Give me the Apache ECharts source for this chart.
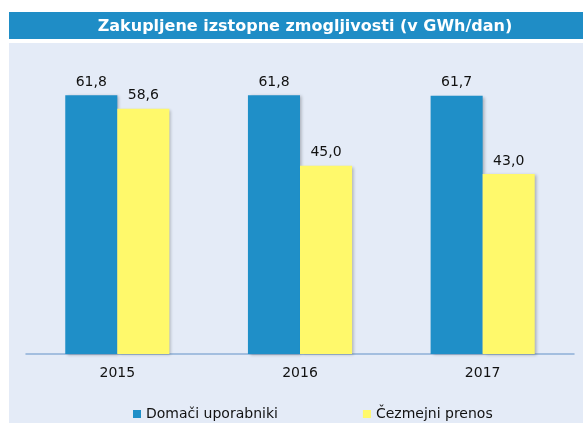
<!DOCTYPE html>
<html>
<head>
<meta charset="utf-8">
<script src="https://cdn.jsdelivr.net/npm/echarts@6/dist/echarts.min.js"></script>
<style>
html,body{margin:0;padding:0;background:#ffffff;}
#chart{width:583px;height:423px;}
</style>
</head>
<body>
<div id="chart"></div>
<script>
const titleText = 'Zakupljene izstopne zmogljivosti (v GWh/dan)';
const categories = ['2015', '2016', '2017'];
const seriesNames = ['Domači uporabniki', 'Čezmejni prenos'];
const domaci = [61.8, 61.8, 61.7];
const cezmejni = [58.6, 45.0, 43.0];

const FONT = '"DejaVu Sans", sans-serif';
const chart = echarts.init(document.getElementById('chart'), null, {renderer: 'canvas'});
const fmt = p => p.value.toFixed(1).replace('.', ',');

chart.setOption({
  animation: false,
  backgroundColor: '#ffffff',
  graphic: [
    {type: 'rect', z: -10, shape: {x: 9, y: 43, width: 574, height: 380}, style: {fill: '#E4EBF7'}},
    {type: 'rect', z: -10, shape: {x: 9, y: 12, width: 574, height: 27}, style: {fill: '#1F8DC6'}}
  ],
  title: {
    text: titleText,
    left: 300,
    textAlign: 'center',
    top: 14,
    textStyle: {color: '#ffffff', fontSize: 16, fontWeight: 'bold', fontFamily: FONT}
  },
  legend: {
    left: 128,
    top: 402,
    itemWidth: 8,
    itemHeight: 8,
    itemGap: 85,
    icon: 'rect',
    textStyle: {fontSize: 14, color: '#111111', fontFamily: FONT},
    data: seriesNames
  },
  grid: {left: 26, right: 9, top: 61, bottom: 69},
  xAxis: {
    type: 'category',
    data: categories,
    axisLine: {lineStyle: {color: '#8DB0D8', width: 1.5}},
    axisTick: {show: false},
    axisLabel: {fontSize: 14, color: '#111111', fontFamily: FONT, margin: 12}
  },
  yAxis: {
    type: 'value',
    min: 0,
    max: 70,
    show: false,
    splitLine: {show: false}
  },
  series: [
    {
      name: seriesNames[0],
      type: 'bar',
      data: domaci,
      barGap: '0%',
      barCategoryGap: '43%',
      itemStyle: {color: '#1F8FC8', shadowBlur: 3, shadowOffsetX: 2, shadowOffsetY: 1, shadowColor: 'rgba(0,0,0,0.25)'},
      label: {show: true, position: 'top', distance: 6, formatter: fmt, fontSize: 14, color: '#111111', fontFamily: FONT}
    },
    {
      name: seriesNames[1],
      type: 'bar',
      data: cezmejni,
      itemStyle: {color: '#FFF96B', shadowBlur: 3, shadowOffsetX: 2, shadowOffsetY: 1, shadowColor: 'rgba(0,0,0,0.25)'},
      label: {show: true, position: 'top', distance: 6, formatter: fmt, fontSize: 14, color: '#111111', fontFamily: FONT}
    }
  ]
});
</script>
</body>
</html>
